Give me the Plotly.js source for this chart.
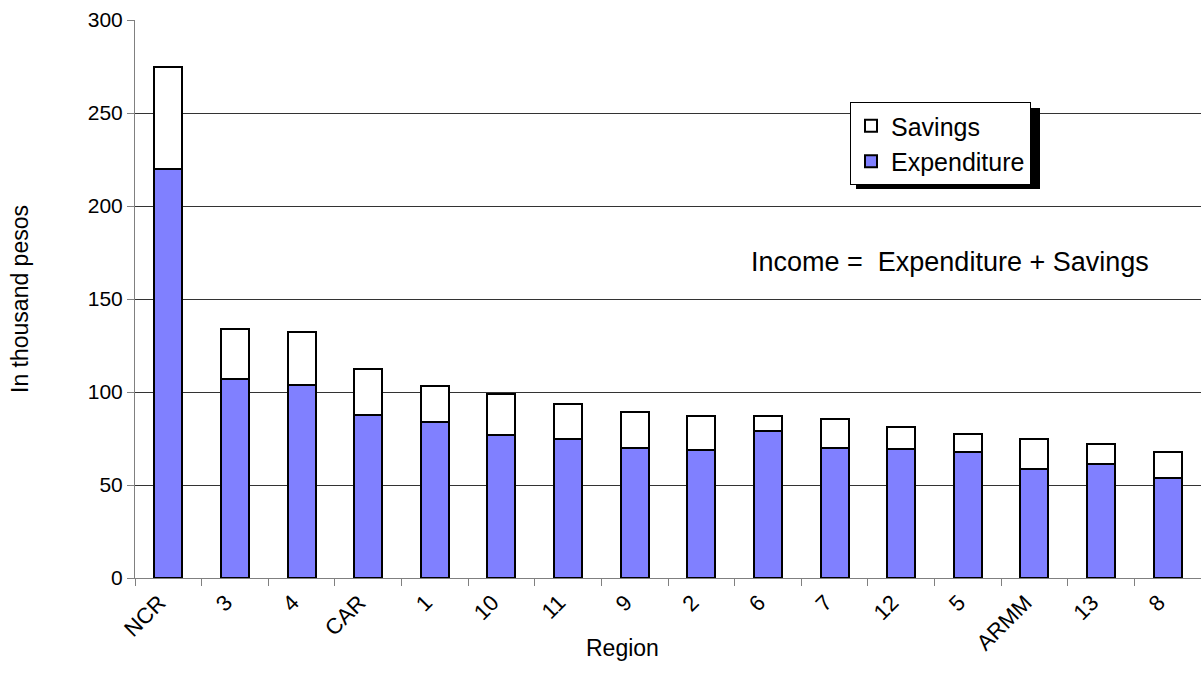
<!DOCTYPE html>
<html>
<head>
<meta charset="utf-8">
<script src="https://cdn.plot.ly/plotly-3.0.1.min.js"></script>
<style>html,body{margin:0;padding:0;background:#fff;}#chart{width:1201px;height:689px;}</style>
</head>
<body>
<div id="chart"></div>
<script>
const regions = ["NCR","3","4","CAR","1","10","11","9","2","6","7","12","5","ARMM","13","8"];
const expenditure = [220, 107, 104, 87.5, 84, 77, 75, 70, 69, 79, 70, 69.5, 67.5, 58.5, 61.5, 53.5];
const savings = [55, 27, 28, 25, 19, 22, 18.5, 19.5, 18, 8, 15.5, 11.5, 10, 16, 10.5, 14.5];
const yTicks = [0, 50, 100, 150, 200, 250, 300];

const font = "Liberation Sans, Arial, sans-serif";
const traces = [
  {type:"bar", name:"Expenditure", x:regions, y:expenditure, legendrank:2,
   marker:{color:"#8080ff", line:{color:"#000", width:2}}},
  {type:"bar", name:"Savings", x:regions, y:savings, legendrank:1,
   marker:{color:"#ffffff", line:{color:"#000", width:2}}}
];
const L = 135, T = 20, W = 1201, H = 689, B = 111, R = 0;
const pw = W - L - R, ph = H - T - B;
function px2x(p){return (p - L)/pw;}
function py2y(p){return (H - B - p)/ph;}
const layout = {
  width:W, height:H,
  margin:{l:L, r:R, t:T, b:B, pad:0},
  paper_bgcolor:"#fff", plot_bgcolor:"#fff",
  barmode:"stack", bargap:0.58,
  font:{family:font, color:"#000", size:21},
  showlegend:true,
  legend:{x:px2x(850), y:py2y(102), xanchor:"left", yanchor:"top",
    traceorder:"normal", tracegroupgap:0,
    bgcolor:"#fff", bordercolor:"#000", borderwidth:1,
    font:{family:font, size:25, color:"#000"}, itemwidth:30},
  xaxis:{type:"category", tickangle:-45, ticks:"outside", tickson:"boundaries",
    ticklen:7, tickcolor:"#808080", showline:true, linecolor:"#808080", linewidth:1,
    showgrid:false, tickfont:{family:font, size:22}, ticklabelshift:-9, ticklabelstandoff:2,
    automargin:false},
  yaxis:{range:[0,300], tickvals:yTicks, ticks:"outside", ticklen:7, tickcolor:"#808080",
    showline:true, linecolor:"#808080", linewidth:1, showgrid:true, gridcolor:"#333", gridwidth:1,
    zeroline:false, tickfont:{family:font, size:21},
    title:{text:"In thousand pesos", font:{family:font, size:23}, standoff:52},
    automargin:false},
  annotations:[
    {xref:"paper", yref:"paper", x:px2x(950), y:py2y(262), xanchor:"center", yanchor:"middle",
     text:"Income =  Expenditure + Savings", showarrow:false, font:{family:font, size:27, color:"#000"}},
    {xref:"paper", yref:"paper", x:px2x(622), y:py2y(648), xanchor:"center", yanchor:"middle",
     text:"Region", showarrow:false, font:{family:font, size:23, color:"#000"}}
  ],
  shapes:[{type:"rect", xref:"paper", yref:"paper", layer:"above",
    x0:px2x(856), x1:px2x(1040), y0:py2y(108), y1:py2y(189),
    fillcolor:"#000", line:{width:0}}]
};
Plotly.newPlot("chart", traces, layout, {staticPlot:true, displayModeBar:false});
</script>
</body>
</html>
